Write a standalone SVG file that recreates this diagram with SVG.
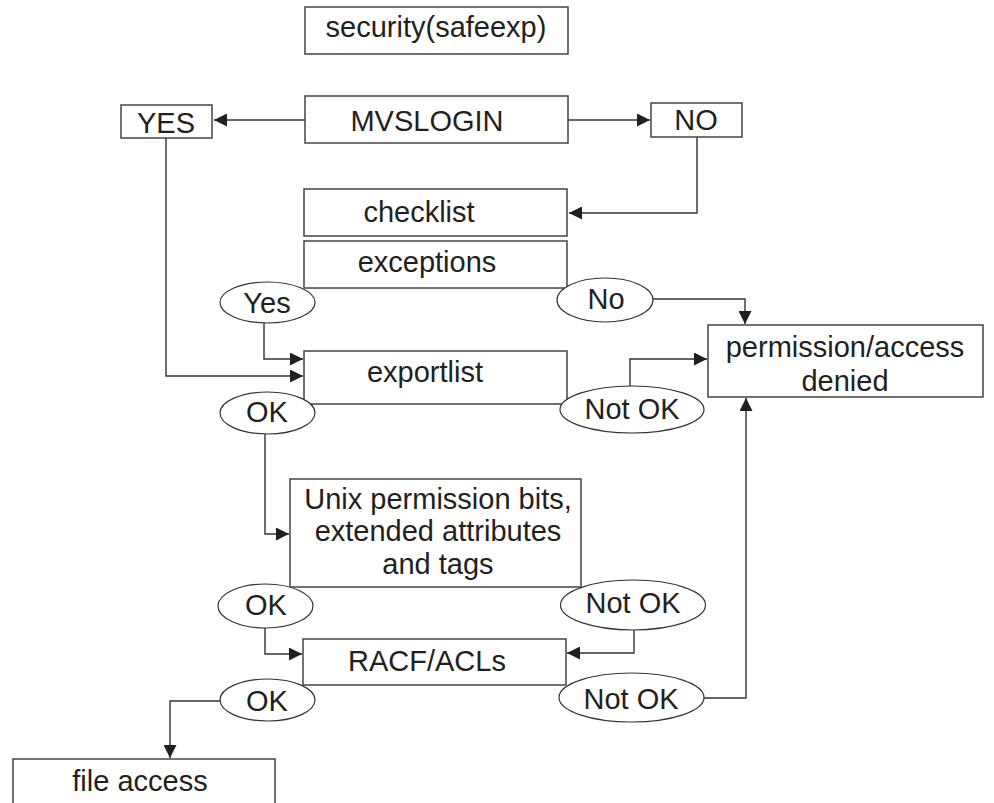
<svg xmlns="http://www.w3.org/2000/svg" width="994" height="803" viewBox="0 0 994 803">
<style>
.box{fill:#fff;stroke:#444;stroke-width:1.5}
.ell{fill:#fff;stroke:#333;stroke-width:1.2}
.t{font-family:"Liberation Sans",Arial,sans-serif;font-size:29px;fill:#231f20;text-anchor:middle}
.c{fill:none;stroke:#333;stroke-width:1.4}
</style>
<defs>
<marker id="ah" markerUnits="userSpaceOnUse" markerWidth="13" markerHeight="13" viewBox="0 0 12 12" refX="12" refY="6" orient="auto">
<path d="M0,0 L12,6 L0,12 Z" fill="#231f20"/>
</marker>
</defs>
<g id="connectors">
<path class="c" d="M305,120 H214" marker-end="url(#ah)"/>
<path class="c" d="M568,120 H650" marker-end="url(#ah)"/>
<path class="c" d="M697,137 V213 H569" marker-end="url(#ah)"/>
<path class="c" d="M166,138 V376 H303" marker-end="url(#ah)"/>
<path class="c" d="M264,323 V359 H303" marker-end="url(#ah)"/>
<path class="c" d="M653,299 H745 V324" marker-end="url(#ah)"/>
<path class="c" d="M630,386 V359 H707" marker-end="url(#ah)"/>
<path class="c" d="M265,434 V534 H289" marker-end="url(#ah)"/>
<path class="c" d="M265,628 V654 H302" marker-end="url(#ah)"/>
<path class="c" d="M634,630 V653 H567" marker-end="url(#ah)"/>
<path class="c" d="M704,698 H746 V398" marker-end="url(#ah)"/>
<path class="c" d="M220,701 H170 V758" marker-end="url(#ah)"/>
</g>
<g id="security"><rect class="box" x="305" y="7" width="263" height="47"/><text class="t" x="436" y="37">security(safeexp)</text></g>
<g id="mvslogin"><rect class="box" x="305" y="96" width="263" height="47"/><text class="t" x="427" y="131">MVSLOGIN</text></g>
<g id="yes"><rect class="box" x="121" y="105" width="91" height="33"/><text class="t" x="166" y="133">YES</text></g>
<g id="no"><rect class="box" x="651" y="103" width="91" height="34"/><text class="t" x="696" y="130">NO</text></g>
<g id="checklist"><rect class="box" x="304" y="189" width="263" height="47"/><text class="t" x="419" y="222">checklist</text></g>
<g id="exceptions"><rect class="box" x="304" y="241" width="263" height="47" stroke="#222"/><text class="t" x="427" y="272">exceptions</text></g>
<g id="yes-ell"><ellipse class="ell" cx="267.5" cy="302.5" rx="47.5" ry="20.5"/><text class="t" x="267" y="313">Yes</text></g>
<g id="no-ell"><ellipse class="ell" cx="605" cy="300" rx="48" ry="22"/><text class="t" x="606" y="309">No</text></g>
<g id="permission"><rect class="box" x="708" y="325" width="275" height="72"/><text class="t" x="845" y="357">permission/access</text><text class="t" x="845" y="391">denied</text></g>
<g id="exportlist"><rect class="box" x="304" y="351" width="263" height="53"/><text class="t" x="425" y="382">exportlist</text></g>
<g id="ok1"><ellipse class="ell" cx="267.5" cy="413" rx="47.5" ry="21"/><text class="t" x="267" y="422">OK</text></g>
<g id="notok1"><ellipse class="ell" cx="632" cy="409.5" rx="72" ry="23.5"/><text class="t" x="632" y="419">Not OK</text></g>
<g id="unix"><rect class="box" x="290" y="479" width="291" height="108"/><text class="t" x="438" y="509">Unix permission bits,</text><text class="t" x="438" y="541">extended attributes</text><text class="t" x="438" y="574">and tags</text></g>
<g id="ok2"><ellipse class="ell" cx="265.5" cy="606" rx="47.5" ry="22"/><text class="t" x="266" y="615">OK</text></g>
<g id="notok2"><ellipse class="ell" cx="633" cy="605" rx="72.5" ry="25"/><text class="t" x="633" y="613">Not OK</text></g>
<g id="racf"><rect class="box" x="303" y="639" width="263" height="46"/><text class="t" x="427" y="671">RACF/ACLs</text></g>
<g id="ok3"><ellipse class="ell" cx="267.5" cy="700" rx="47.5" ry="21"/><text class="t" x="267" y="711">OK</text></g>
<g id="notok3"><ellipse class="ell" cx="631.5" cy="697.5" rx="72.5" ry="24.5"/><text class="t" x="631" y="709">Not OK</text></g>
<g id="fileaccess"><rect class="box" x="13" y="759" width="262" height="60"/><text class="t" x="140" y="791">file access</text></g>
</svg>
